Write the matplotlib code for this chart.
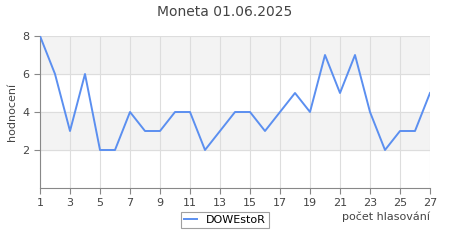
import matplotlib
matplotlib.use("Agg")
import matplotlib.pyplot as plt

votes = list(range(1, 28))
scores = [8, 6, 3, 6, 2, 2, 4, 3, 3, 4, 4, 2, 3, 4, 4, 3, 4, 5, 4, 7, 5, 7, 4, 2, 3, 3, 5]
xticks = list(range(1, 28, 2))
yticks = [2, 4, 6, 8]

fig = plt.figure(figsize=(4.5, 2.5), dpi=100)
ax = fig.add_axes([40/450, 1 - 188/250, 390/450, 152/250])

# alternating bands
ax.axhspan(2, 4, color="#f3f3f3", zorder=0)
ax.axhspan(6, 8, color="#f3f3f3", zorder=0)

ax.plot(votes, scores, color="#5b8ff0", linewidth=1.4, label="DOWEstoR", zorder=3)

ax.set_xlim(1, 27)
ax.set_ylim(0, 8)
ax.set_xticks(xticks)
ax.set_yticks(yticks)
ax.grid(True, color="#dddddd", linewidth=0.8, zorder=1)
ax.set_axisbelow(True)

for s in ["top", "right"]:
    ax.spines[s].set_visible(False)
for s in ["left", "bottom"]:
    ax.spines[s].set_color("#888888")
ax.tick_params(colors="#888888", labelcolor="#444444", labelsize=8, length=4, width=0.8)

ax.set_ylabel("hodnocení", fontsize=8, color="#444444", labelpad=4)
fig.text(430/450, 1 - 217/250, "počet hlasování", ha="right", va="center", fontsize=8, color="#444444")
fig.text(225/450, 1 - 12/250, "Moneta 01.06.2025", ha="center", va="center", fontsize=10, color="#444444")

leg = fig.legend(loc="center", bbox_to_anchor=(225/450, 1 - 220/250), fontsize=8, frameon=True,
                 fancybox=False, handlelength=1.2, borderpad=0.3)
leg.get_frame().set_edgecolor("#888888")
leg.get_frame().set_linewidth(0.8)

fig.savefig("out.png", dpi=100)
